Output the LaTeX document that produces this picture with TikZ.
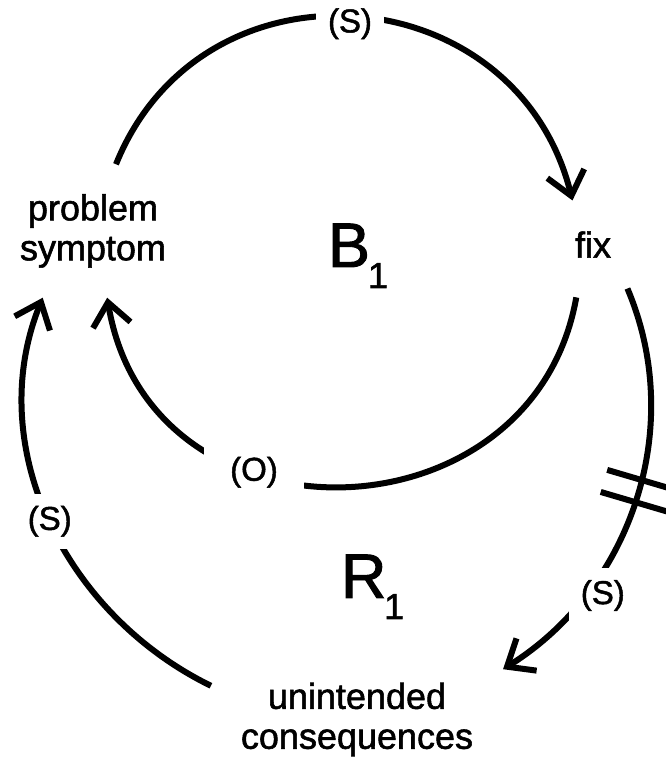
\documentclass[tikz,border=0pt]{standalone}
\usepackage{fontspec}
\setmainfont{Liberation Sans}[FakeBold=1.5]
\usepackage{tikz}
\usetikzlibrary{arrows.meta,decorations.markings}

\begin{document}
\begin{tikzpicture}[
    x=0.25mm, y=0.25mm,
    line width=1.5mm,
    variavel/.style={align=center, inner sep=0pt, font=\fontsize{25.6}{28.4}\selectfont},
    polaridade/.style={fill=white, inner sep=3mm, font=\fontsize{23.5}{23.5}\selectfont},
    laco/.style={inner sep=0pt, anchor=base west, font=\fontsize{44.8}{44.8}\selectfont},
    elo/.style={-{Straight Barb[length=5.75mm, width=9.5mm]}},
    atraso/.style={postaction={decorate}, decoration={markings,
        mark=at position 0.475 with {\draw[-] (-11.5,-36) -- (-11.5,36) (11.5,-36) -- (11.5,36);}}}
]
    \useasboundingbox (0,0) rectangle (665,765);

    \node[variavel, outer xsep=2.5mm, outer ysep=7.5mm] (sintoma) at (93,534) {problem\\symptom};
    \node[variavel, outer xsep=5mm, outer ysep=7.75mm] (solucao) at (593,520.5) {fix};
    \node[variavel, outer xsep=7.5mm, outer ysep=5mm] (efeito) at (357,45.5) {unintended\\consequences};
    \node[laco] (b1) at (325,498) {B\kern-0.5mm\raisebox{-5.25mm}{\fontsize{25.6}{25.6}\selectfont 1}};
    \node[laco] (r1) at (338,167) {R\kern-0.6mm\raisebox{-5.25mm}{\fontsize{25.6}{25.6}\selectfont 1}};

    \draw[elo] (sintoma.71) to[out=68, in=104, distance=58mm]
        node[polaridade, pos=0.49, yshift=-1.75mm] {(S)} (solucao.115);
    \draw[elo, shorten <=2.25mm] (solucao.-109) to[out=-100, in=-80.5, distance=65mm]
        node[polaridade, pos=0.64, inner xsep=6.5mm] {(O)} (sintoma.-78);
    \draw[elo, atraso] (solucao.-52) to[out=-67, in=32, distance=37.75mm]
        node[polaridade, pos=0.75, xshift=4.5mm] {(S)} (efeito.19);
    \draw[elo] (efeito.167) to[out=154, in=248, distance=40.35mm]
        node[polaridade, pos=0.5] {(S)} (sintoma.-127);
\end{tikzpicture}
\end{document}
